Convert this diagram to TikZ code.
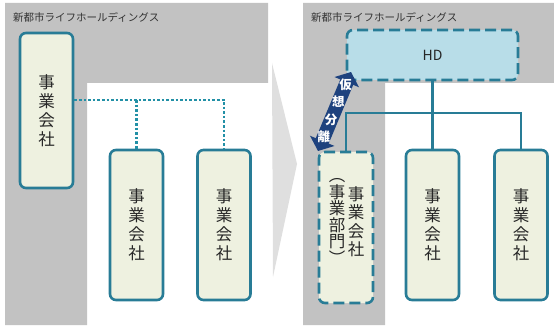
\documentclass[tikz,border=0pt]{standalone}
\usepackage{fontspec}
\newfontfamily\jp{Noto Sans CJK JP}
\usetikzlibrary{arrows.meta, positioning, calc}
\definecolor{waku}{RGB}{40,124,150}
\definecolor{naka}{RGB}{238,241,224}
\definecolor{hdiro}{RGB}{184,221,232}
\definecolor{haiiro}{RGB}{194,194,194}
\definecolor{kon}{RGB}{30,66,126}
\tikzset{
    %Define style for company boxes
    kaisha/.style={
           rectangle,
           rounded corners=6pt,
           draw=waku, line width=2.6pt,
           fill=naka,
           minimum width=53pt,
           minimum height=150pt,
           align=center,
           text=black!85,
           font=\jp\fontsize{16.5}{19}\selectfont},
    %Define style for dashed boxes
    kasou/.style={
           kaisha,
           dash pattern=on 11pt off 5pt},
    % Define line styles
    sen/.style={
           draw=waku,
           line width=2.2pt},
    tensen/.style={
           draw=waku!85!cyan,
           line width=2.8pt,
           dash pattern=on 2.6pt off 2pt},
    bunri/.style={
           draw=kon,
           line width=14pt,
           {Triangle[width=26pt,length=11pt]}-{Triangle[width=26pt,length=11pt]}},
    moji/.style={
           text=white,
           inner sep=0pt,
           font=\jp\bfseries\fontsize{12.5}{12.5}\selectfont},
    midashi/.style={
           anchor=west,
           inner sep=0pt,
           text=black!80,
           font=\jp\fontsize{10.5}{11}\selectfont}
}
\begin{document}
\begin{tikzpicture}[x=1pt, y=-1pt]
	\useasboundingbox (0,0) rectangle (554,331);
	%
	% background
	%
	\fill[haiiro] (5,3) -- (268,3) -- (268,83) -- (87,83) -- (87,325) -- (5,325) -- cycle;
	\fill[haiiro] (303,3) -- (554,3) -- (554,83) -- (385,83) -- (385,325) -- (303,325) -- cycle;
	\fill[gray!25] (272,63) -- (297,164) -- (273,277) -- cycle;
	\node[midashi] (title1) at (13,17) {新都市ライフホールディングス};
	\node[midashi] (title2) at (311,17) {新都市ライフホールディングス};
	%
	% before
	%
	\node[kaisha, minimum height=155pt] (oya) at (46.5,110.5) {事\\業\\会\\社};
	\node[kaisha] (ko1) at (136.5,225) {事\\業\\会\\社};
	\node[kaisha] (ko2) at (224,225) {事\\業\\会\\社};
	\coordinate (bunki) at (224,100);
	\draw[tensen] (oya.east |- bunki) -| (ko2.north);
	\draw[tensen] (ko1.north |- bunki) -- (ko1.north);
	%
	% after
	%
	\node[kasou, fill=hdiro, minimum width=171pt, minimum height=50pt,
	      font=\jp\fontsize{14}{16}\selectfont] (hd) at (432.5,55) {HD};
	\node[kasou, minimum width=54pt, minimum height=151pt] (bumon) at (346,227.5) {};
	\node[font=\jp\fontsize{16.5}{18.5}\selectfont, text=black!85, align=center, inner sep=0pt]
	      (bumon-r) at ($(bumon.center)+(10,-6)$) {事\\業\\会\\社};
	\node[font=\jp\fontsize{16.5}{16.5}\selectfont, text=black!85, align=center, inner sep=0pt,
	      left=2pt of bumon-r] (bumon-l) {︵\\事\\業\\部\\門\\︶};
	\node[kaisha] (ko3) at (432.5,225) {事\\業\\会\\社};
	\node[kaisha] (ko4) at (521,225) {事\\業\\会\\社};
	%
	% links
	%
	\coordinate (eda) at (432.5,113);
	\draw[sen] (hd.south) -- (eda) -- (ko3.north);
	\draw[sen] (bumon.north) |- (eda) -| (ko4.north);
	\coordinate (bunri-s) at (318,151);
	\coordinate (bunri-e) at (351,72);
	\draw[bunri] (bunri-s) -- (bunri-e);
	\foreach \m [count=\i] in {仮,想,分,離}
		\node[moji] (moji\i) at ($(bunri-e)!{0.16+0.22*(\i-1)}!(bunri-s)$) {\m};
\end{tikzpicture}
\end{document}
